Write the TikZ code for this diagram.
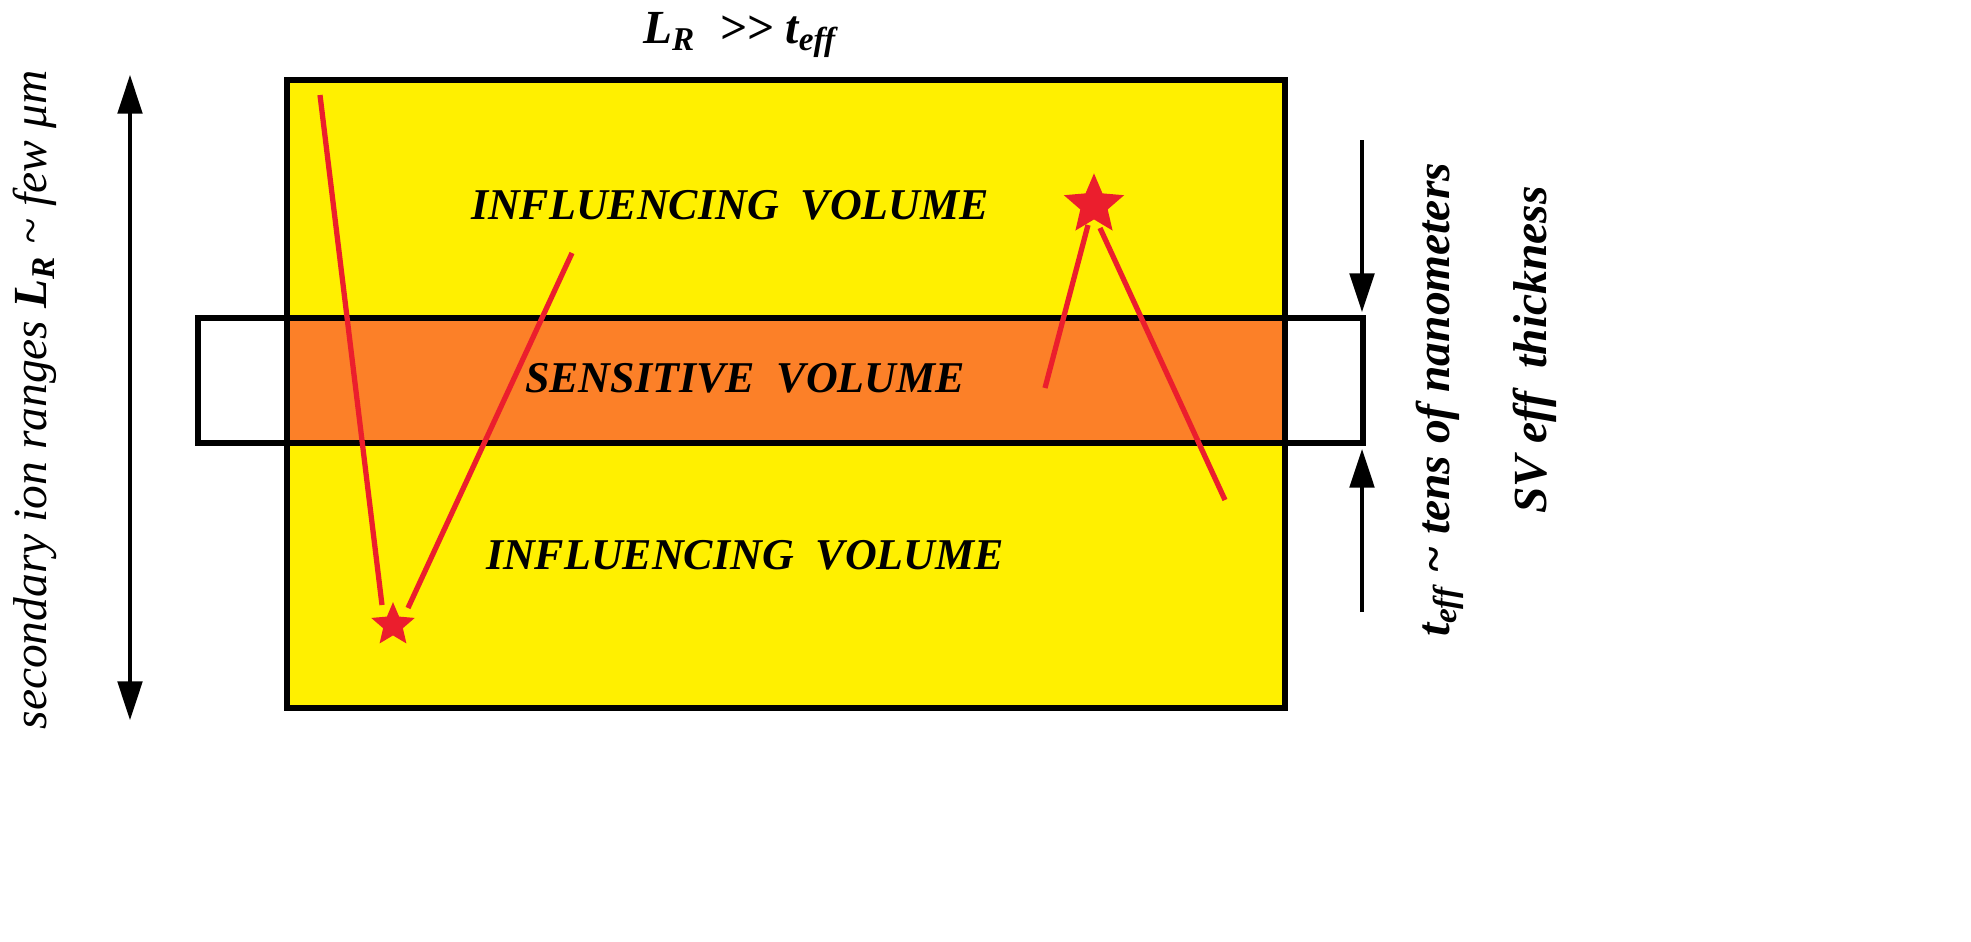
\documentclass[tikz,border=0pt]{standalone}
\usepackage{fontspec}
\setmainfont{Liberation Serif}
\usetikzlibrary{arrows.meta,shapes.geometric}
\definecolor{yel}{RGB}{255,240,0}
\definecolor{org}{RGB}{252,128,40}
\definecolor{rd}{RGB}{235,30,45}
\begin{document}
\begin{tikzpicture}[x=0.01cm,y=-0.01cm,
 lbl/.style={font=\fontsize{12.5}{14}\selectfont\bfseries\itshape},
 side/.style={font=\fontsize{13.5}{15}\selectfont\itshape,rotate=90},
 arr/.style={line width=1pt,-{Triangle[length=11pt,width=7pt]}},
 trk/.style={rd,line width=1.5pt},
 st/.style={star,star points=5,star point ratio=2.2,fill=rd,minimum size=13pt,inner sep=0pt}]
\useasboundingbox (0,0) rectangle (1971,942);
\fill[yel] (287,80) rectangle (1285,708);
\fill[org] (287,318) rectangle (1285,443);
\draw[line width=1.5pt] (287,80) rectangle (1285,708);
\draw[line width=1.5pt] (198,318) rectangle (1363,443);
\node[lbl] (iv1) at (730,205) {INFLUENCING\ \ VOLUME};
\node[lbl] (sv) at (745,378) {SENSITIVE\ \ VOLUME};
\node[lbl] (iv2) at (745,555) {INFLUENCING\ \ VOLUME};
\node[font=\fontsize{13.5}{15}\selectfont\bfseries\itshape] (top) at (740,35) {L\textsubscript{R}\ \ {>}{>} t\textsubscript{eff}};
\coordinate (la) at (130,75); \coordinate (lb) at (130,720);
\draw[line width=1pt,{Triangle[length=11pt,width=7pt]}-{Triangle[length=11pt,width=7pt]}] (la) -- (lb);
\node[side] (ltxt) at (35,400) {secondary ion ranges \textbf{L\textsubscript{R}}\ \textasciitilde\ few μm};
\coordinate (d1) at (1362,140); \coordinate (d2) at (1362,312);
\coordinate (u1) at (1362,612); \coordinate (u2) at (1362,449);
\draw[arr] (d1) -- (d2);
\draw[arr] (u1) -- (u2);
\node[side,font=\fontsize{13.5}{15}\selectfont\bfseries\itshape] (t1) at (1440,400) {t\textsubscript{eff} \textasciitilde\ tens of nanometers};
\node[side,font=\fontsize{13.5}{15}\selectfont\bfseries\itshape] (t2) at (1535,350) {SV eff\ \ thickness};
\node[st] (s1) at (393,625) {};
\node[st,minimum size=18pt] (s2) at (1094,205) {};
\coordinate (a0) at (320,95); \coordinate (a1) at (382,605);
\coordinate (b0) at (408,608); \coordinate (b1) at (572,253);
\coordinate (c0) at (1045,388); \coordinate (c1) at (1088,225);
\coordinate (e0) at (1100,228); \coordinate (e1) at (1225,500);
\draw[trk] (a0) -- (a1);
\draw[trk] (b0) -- (b1);
\draw[trk] (c0) -- (c1);
\draw[trk] (e0) -- (e1);
\end{tikzpicture}
\end{document}
